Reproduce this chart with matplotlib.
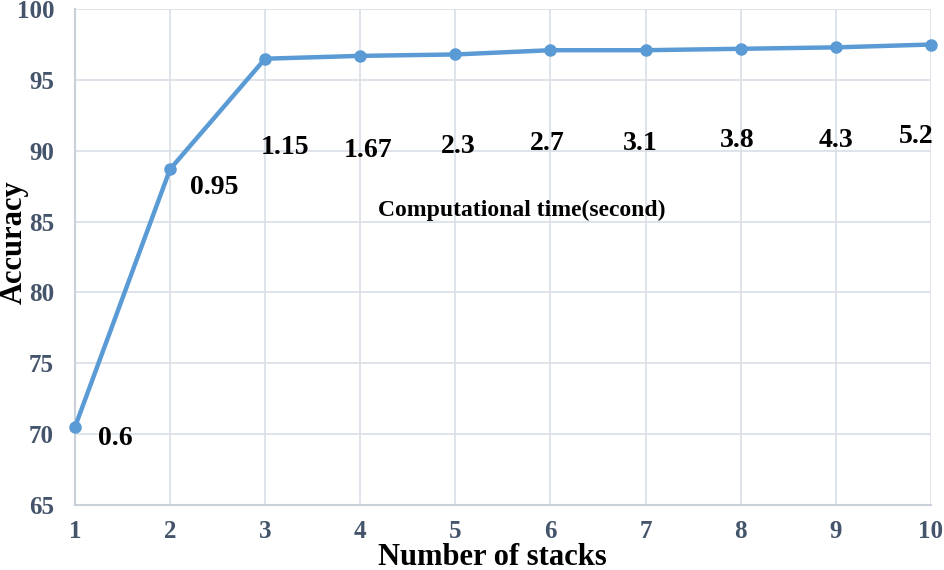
import matplotlib
matplotlib.use("Agg")
import matplotlib.pyplot as plt

stacks = [1, 2, 3, 4, 5, 6, 7, 8, 9, 10]
accuracy = [70.5, 88.7, 96.5, 96.7, 96.8, 97.1, 97.1, 97.2, 97.3, 97.5]
comp_time = ["0.6", "0.95", "1.15", "1.67", "2.3", "2.7", "3.1", "3.8", "4.3", "5.2"]
label_x = [1.42, 2.47, 3.21, 4.08, 5.03, 5.97, 6.94, 7.96, 9.0, 9.85]
label_y = [69.7, 87.4, 90.2, 90.05, 90.3, 90.5, 90.5, 90.75, 90.7, 91.0]
yticks = [65, 70, 75, 80, 85, 90, 95, 100]

serif = ["Liberation Serif", "DejaVu Serif"]
fig = plt.figure(figsize=(9.44, 5.70), dpi=100)
ax = fig.add_axes([0.0794, 0.114, 0.9066, 0.870])

grid_c = "#D9DFE8"
ax.plot(stacks, accuracy, color="#5B9BD5", lw=3.2, marker="o", ms=8, zorder=3,
        clip_on=False)

ax.set_xlim(1, 10)
ax.set_ylim(65, 100)
ax.set_xticks(stacks)
ax.set_yticks(yticks)
ax.grid(True, color=grid_c, lw=1.2)
for s in ["top", "right"]:
    ax.spines[s].set_visible(False)
for s in ["left", "bottom"]:
    ax.spines[s].set_color("#C9D0DA")
    ax.spines[s].set_linewidth(1.5)
ax.tick_params(length=0, labelcolor="#44546A")
ax.tick_params(axis="y", pad=15)
ax.tick_params(axis="x", pad=11)
for lab in ax.get_xticklabels() + ax.get_yticklabels():
    lab.set_fontfamily(serif)
    lab.set_fontweight("bold")
    lab.set_fontsize(18)

for t, x, y in zip(comp_time, label_x, label_y):
    ax.text(x, y, t, ha="center", va="center", fontsize=20, fontweight="bold",
            family=serif, color="black")
ax.text(5.7, 85.8, "Computational time(second)", ha="center", va="center",
        fontsize=17, fontweight="bold", family=serif, color="black")

ax.set_xlabel("Number of stacks", fontsize=22, fontweight="bold", family=serif,
              va="center")
ax.xaxis.set_label_coords(0.488, -0.105)
ax.set_ylabel("Accuracy", fontsize=22, fontweight="bold", family=serif,
              va="center")
ax.yaxis.set_label_coords(-0.071, 0.53)

fig.savefig("out.png", dpi=100)
